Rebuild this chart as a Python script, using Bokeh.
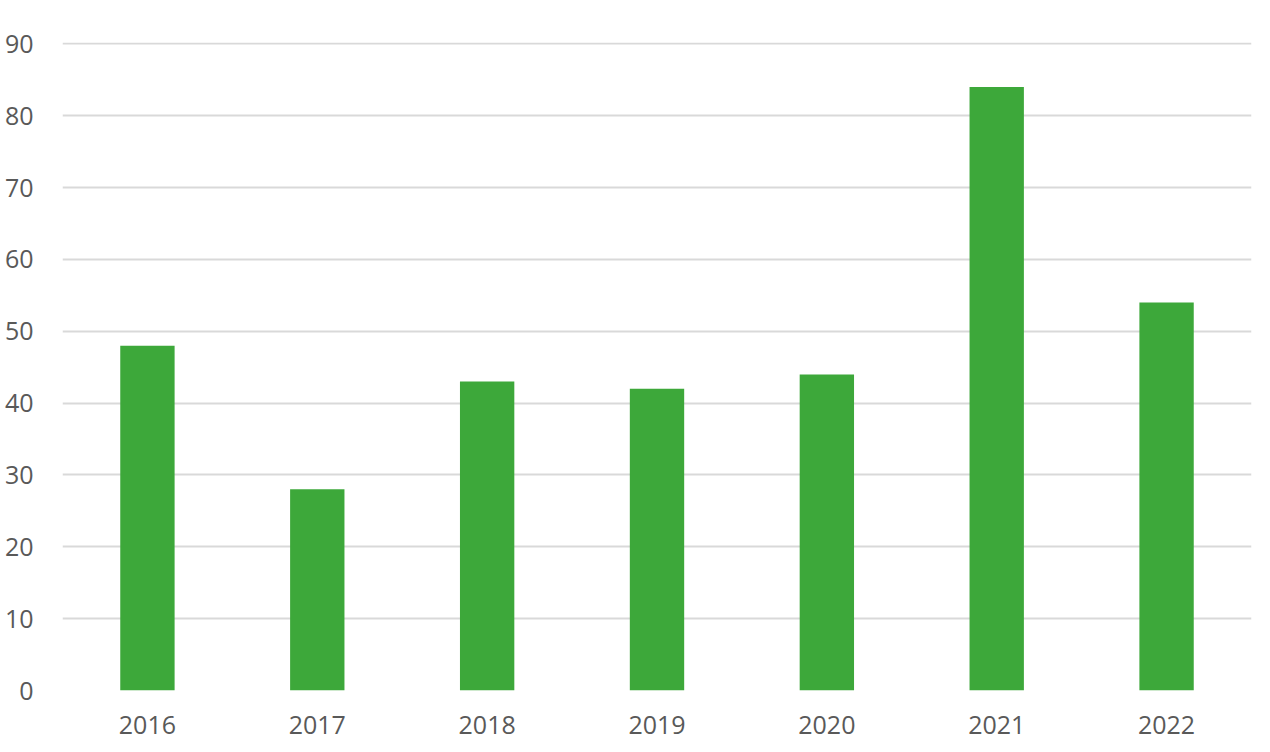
from bokeh.plotting import figure
from bokeh.models import FactorRange, Range1d, ColumnDataSource, FixedTicker
from bokeh.embed import file_html
from bokeh.resources import INLINE

years = ["2016", "2017", "2018", "2019", "2020", "2021", "2022"]
counts = [48, 28, 43, 42, 44, 84, 54]
y_ticks = [0, 10, 20, 30, 40, 50, 60, 70, 80, 90]

src = ColumnDataSource(dict(x=years, top=counts))

p = figure(width=1262, height=744, x_range=FactorRange(*years), y_range=Range1d(0, 90.2),
           output_backend="svg", toolbar_location=None,
           min_border_left=62, min_border_right=11, min_border_top=42, min_border_bottom=54)
p.vbar(x="x", top="top", width=0.32, source=src, color="#3DA83A", line_color=None)

p.outline_line_color = None
p.xgrid.grid_line_color = None
p.ygrid.grid_line_color = "#D9D9D9"
p.ygrid.grid_line_width = 2
p.yaxis.ticker = FixedTicker(ticks=y_ticks)
for ax in (p.xaxis[0], p.yaxis[0]):
    ax.axis_line_color = None
    ax.major_tick_line_color = None
    ax.minor_tick_line_color = None
    ax.major_label_text_font = "Open Sans"
    ax.major_label_text_font_size = "25px"
    ax.major_label_text_color = "#595959"
p.yaxis.major_label_standoff = 23
p.xaxis.major_label_standoff = 19

open("out.html", "w").write(file_html(p, INLINE))
